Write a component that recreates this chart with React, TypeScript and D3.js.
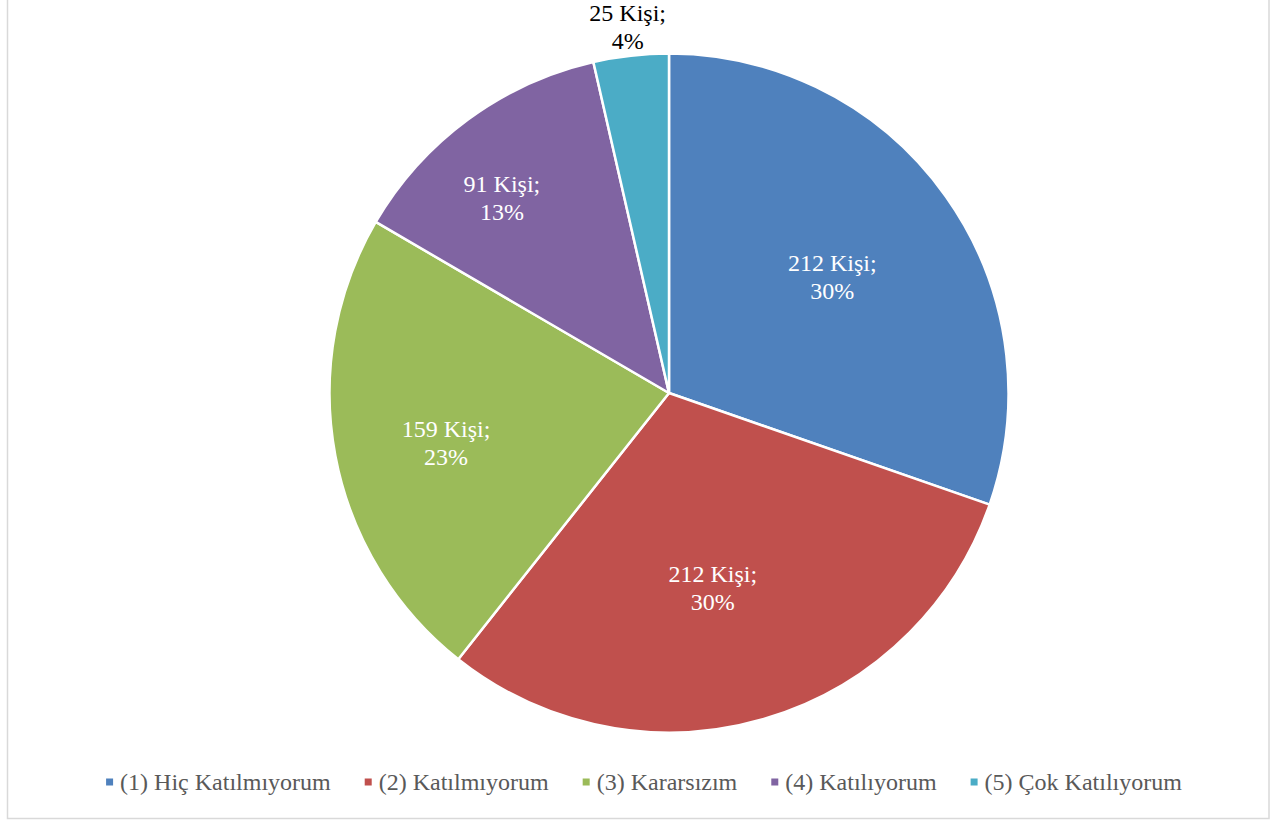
import React, { useEffect, useRef } from "react";
import * as d3 from "d3";

const categories = [
  "(1) Hiç Katılmıyorum",
  "(2) Katılmıyorum",
  "(3) Kararsızım",
  "(4) Katılıyorum",
  "(5) Çok Katılıyorum",
];
const counts = [212, 212, 159, 91, 25];
const percentLabels = ["30%", "30%", "23%", "13%", "4%"];
const colors = ["#4F81BD", "#C0504D", "#9BBB59", "#8064A2", "#4BACC6"];
// label placement (layout only): distance as fraction of radius, angular shift in degrees
const labelRadius = [0.59, 0.59, 0.673, 0.756, 1.085];
const labelShift = [0, 3.6, -1.9, -4.3, 0];

const W = 1272;
const H = 823;
const FONT = "Liberation Serif, Times New Roman, serif";

export default function App() {
  const ref = useRef<SVGSVGElement | null>(null);

  useEffect(() => {
    const svg = d3.select(ref.current);
    svg.selectAll("*").remove();

    svg
      .append("rect")
      .attr("x", 7.5)
      .attr("y", -10)
      .attr("width", 1261.5)
      .attr("height", 828.5)
      .attr("fill", "#ffffff")
      .attr("stroke", "#d9d9d9")
      .attr("stroke-width", 1.5);

    const cx = 669;
    const cy = 393;
    const r = 339.5;

    const pie = d3
      .pie<number>()
      .sort(null)
      .value((d) => d);
    const arcs = pie(counts);
    const arc = d3.arc<d3.PieArcDatum<number>>().innerRadius(0).outerRadius(r);

    const g = svg.append("g").attr("transform", `translate(${cx},${cy})`);
    g.selectAll("path")
      .data(arcs)
      .enter()
      .append("path")
      .attr("d", arc as any)
      .attr("fill", (_d, i) => colors[i])
      .attr("stroke", "#ffffff")
      .attr("stroke-width", 2.5)
      .attr("stroke-linejoin", "round");

    arcs.forEach((a, i) => {
      const mid = (a.startAngle + a.endAngle) / 2 + (labelShift[i] * Math.PI) / 180;
      const lr = r * labelRadius[i];
      const x = Math.sin(mid) * lr;
      const y = -Math.cos(mid) * lr;
      const outside = labelRadius[i] > 1;
      const t = g
        .append("text")
        .attr("x", x)
        .attr("y", y)
        .attr("text-anchor", "middle")
        .style("font-family", FONT)
        .style("font-size", "24px")
        .attr("fill", outside ? "#000000" : "#ffffff");
      t.append("tspan").attr("x", x).attr("dy", -6).text(`${counts[i]} Kişi;`);
      t.append("tspan").attr("x", x).attr("dy", 28).text(percentLabels[i]);
    });

    // legend
    const lg = svg.append("g");
    const ly = 782;
    const sq = 7;
    const gapSq = 7;
    const gapItem = 34;
    const items = categories.map((c, i) => {
      const it = lg.append("g");
      it.append("rect")
        .attr("width", sq)
        .attr("height", sq)
        .attr("y", ly - sq / 2)
        .attr("fill", colors[i]);
      const tx = it
        .append("text")
        .attr("x", sq + gapSq)
        .attr("y", ly + 8)
        .style("font-family", FONT)
        .style("font-size", "24px")
        .attr("fill", "#595959")
        .text(c);
      const w = (tx.node() as SVGTextElement).getComputedTextLength();
      return { it, w: sq + gapSq + w };
    });
    const total = items.reduce((s, d) => s + d.w, 0) + gapItem * (items.length - 1);
    let x = 644 - total / 2;
    items.forEach((d) => {
      d.it.attr("transform", `translate(${x},0)`);
      x += d.w + gapItem;
    });
  }, []);

  return (
    <svg
      ref={ref}
      width={W}
      height={H}
      style={{ position: "absolute", left: 0, top: 0, display: "block" }}
    />
  );
}
